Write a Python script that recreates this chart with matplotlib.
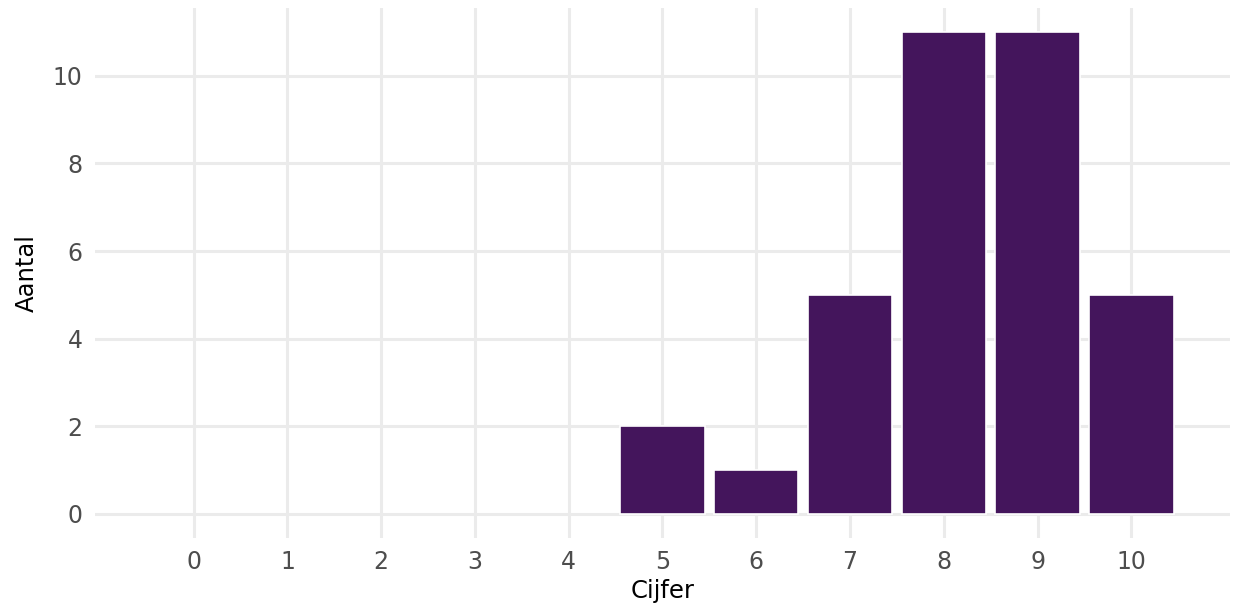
import matplotlib
matplotlib.use("Agg")
import matplotlib.pyplot as plt

cijfers = list(range(11))
aantal = [0, 0, 0, 0, 0, 2, 1, 5, 11, 11, 5]
y_ticks = [0, 2, 4, 6, 8, 10]

plt.rcParams['font.family'] = ['DejaVu Sans']

fig = plt.figure(figsize=(12.36, 6.14), dpi=100)
ax = fig.add_axes([0.077, 0.124, 0.918, 0.863])

# no outline on empty bars, otherwise they punch holes in the zero gridline
widths = [1.2 if v > 0 else 0 for v in aantal]
ax.bar(cijfers, aantal, width=0.9, color='#44155C', edgecolor='white', linewidth=widths, zorder=3)

ax.set_xlim(-1.05, 11.05)
ax.set_ylim(-0.55, 11.55)
ax.set_xticks(cijfers)
ax.set_yticks(y_ticks)
ax.grid(True, color='#EBEBEB', linewidth=2.2, zorder=0)
ax.tick_params(length=0, labelsize=17, labelcolor='#4D4D4D', pad=9)
for s in ax.spines.values():
    s.set_visible(False)

ax.set_xlabel('Cijfer', fontsize=17.5, labelpad=3)
ax.set_ylabel('Aantal', fontsize=17.5, labelpad=10)

fig.savefig('out.png', dpi=100)
